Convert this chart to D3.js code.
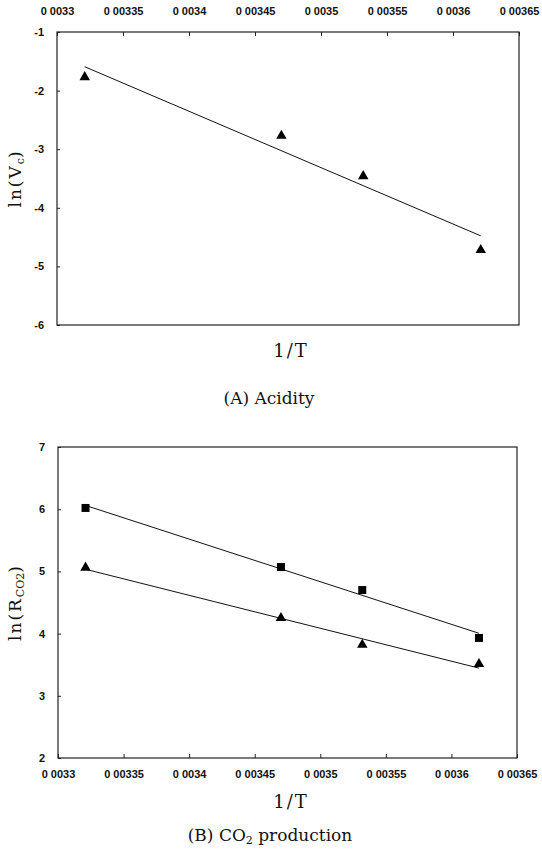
<!DOCTYPE html>
<html>
<head>
<meta charset="utf-8">
<script src="https://d3js.org/d3.v7.min.js"></script>
<style>
  body { margin: 0; background: #fff; }
  .tick text { font-family: "Liberation Sans", Arial, sans-serif; font-weight: bold; font-size: 11px; fill: #111; }
  .ttl { font-family: "DejaVu Serif", "Liberation Serif", serif; fill: #111; }
</style>
</head>
<body>
<script>
// 1/T values (same for all series)
var invT = [0.003321, 0.00347, 0.003532, 0.003621];

// (A) acidity, ln(Vc)
var lnVc = [-1.77, -2.77, -3.46, -4.72];

// (B) CO2 production, ln(R_CO2)
var lnRsquare = [6.02, 5.07, 4.70, 3.93];
var lnRtriangle = [5.06, 4.25, 3.82, 3.51];

var xTicks = [0.0033, 0.00335, 0.0034, 0.00345, 0.0035, 0.00355, 0.0036, 0.00365];
var xTickLabels = ["0 0033", "0 00335", "0 0034", "0 00345", "0 0035", "0 00355", "0 0036", "0 00365"];
var yTicksA = [-1, -2, -3, -4, -5, -6];
var yTicksB = [7, 6, 5, 4, 3, 2];

var svg = d3.select('body').append('svg')
  .attr('width', 542)
  .attr('height', 854);

// least squares line
function fit(xs, ys) {
  var mx = d3.mean(xs), my = d3.mean(ys);
  var sxy = d3.sum(xs, function(x, i) { return (x - mx) * (ys[i] - my); });
  var sxx = d3.sum(xs, function(x) { return (x - mx) * (x - mx); });
  var b = sxy / sxx;
  var x0 = d3.min(xs), x1 = d3.max(xs);
  return [[x0, my + b * (x0 - mx)], [x1, my + b * (x1 - mx)]];
}

function panel(opt) {
  var x = d3.scaleLinear().domain([0.0033, 0.00365]).range([opt.left, opt.right]);
  var y = d3.scaleLinear().domain(opt.ydomain).range([opt.bottom, opt.top]);
  var g = svg.append('g');

  // frame
  g.append('rect')
    .attr('x', opt.left).attr('y', opt.top)
    .attr('width', opt.right - opt.left).attr('height', opt.bottom - opt.top)
    .attr('fill', 'none').attr('stroke', '#222').attr('stroke-width', 1.2);

  // x axis (top or bottom), ticks pointing inward
  var xa = opt.xTop ? d3.axisTop(x) : d3.axisBottom(x);
  xa.tickValues(xTicks).tickSizeInner(-4).tickSizeOuter(0).tickPadding(opt.xTop ? 17 : 12)
    .tickFormat(function(d, i) { return xTickLabels[i]; });
  var gx = g.append('g')
    .attr('transform', 'translate(0,' + (opt.xTop ? opt.top : opt.bottom) + ')')
    .call(xa);
  gx.select('.domain').remove();
  gx.selectAll('.tick line').attr('stroke', '#222');

  var ya = d3.axisLeft(y).tickValues(opt.yticks).tickSizeInner(-3).tickSizeOuter(0).tickPadding(13)
    .tickFormat(function(d) { return String(d); });
  var gy = g.append('g').attr('transform', 'translate(' + opt.left + ',0)').call(ya);
  gy.select('.domain').remove();
  gy.selectAll('.tick line').attr('stroke', '#222');

  opt.series.forEach(function(s) {
    var pts = fit(invT, s.values);
    g.append('line')
      .attr('x1', x(pts[0][0])).attr('y1', y(pts[0][1]))
      .attr('x2', x(pts[1][0])).attr('y2', y(pts[1][1]))
      .attr('stroke', '#111').attr('stroke-width', 1);
    g.selectAll(null).data(s.values).enter().append('path')
      .attr('d', d3.symbol().type(s.shape).size(s.shape === d3.symbolSquare ? 64 : 48))
      .attr('transform', function(d, i) { return 'translate(' + x(invT[i]) + ',' + y(d) + ')'; })
      .attr('fill', '#000');
  });

  // y title
  var yt = g.append('text').attr('class', 'ttl')
    .attr('transform', 'translate(' + opt.ytx + ',' + ((opt.top + opt.bottom) / 2) + ') rotate(-90)')
    .attr('text-anchor', 'middle').style('font-size', '17px').style('letter-spacing', '2px');
  yt.append('tspan').text(opt.ylabel[0]);
  yt.append('tspan').attr('dy', 3).style('font-size', '11px').style('letter-spacing', '0px').text(opt.ylabel[1]);
  yt.append('tspan').attr('dy', -3).text(')');

  g.append('text').attr('class', 'ttl')
    .attr('x', 291).attr('y', opt.xtitleY)
    .attr('text-anchor', 'middle').style('font-size', '18px').style('letter-spacing', '2px').text('1/T');
}

panel({
  left: 57, right: 519, top: 32, bottom: 325,
  ydomain: [-6, -1], yticks: yTicksA, xTop: true,
  series: [{ values: lnVc, shape: d3.symbolTriangle }],
  ylabel: ['ln(V', 'c'], ytx: 21, xtitleY: 357
});

panel({
  left: 58, right: 517, top: 447, bottom: 758,
  ydomain: [2, 7], yticks: yTicksB, xTop: false,
  series: [{ values: lnRsquare, shape: d3.symbolSquare }, { values: lnRtriangle, shape: d3.symbolTriangle }],
  ylabel: ['ln(R', 'CO2'], ytx: 21, xtitleY: 808
});

// captions
svg.append('text').attr('class', 'ttl')
  .attr('x', 269).attr('y', 404).attr('text-anchor', 'middle').style('font-size', '17px')
  .text('(A)  Acidity');

var capB = svg.append('text').attr('class', 'ttl')
  .attr('x', 270).attr('y', 841).attr('text-anchor', 'middle').style('font-size', '17px');
capB.append('tspan').text('(B)  CO');
capB.append('tspan').attr('dy', 3).style('font-size', '11px').text('2');
capB.append('tspan').attr('dy', -3).text(' production');
</script>
</body>
</html>
